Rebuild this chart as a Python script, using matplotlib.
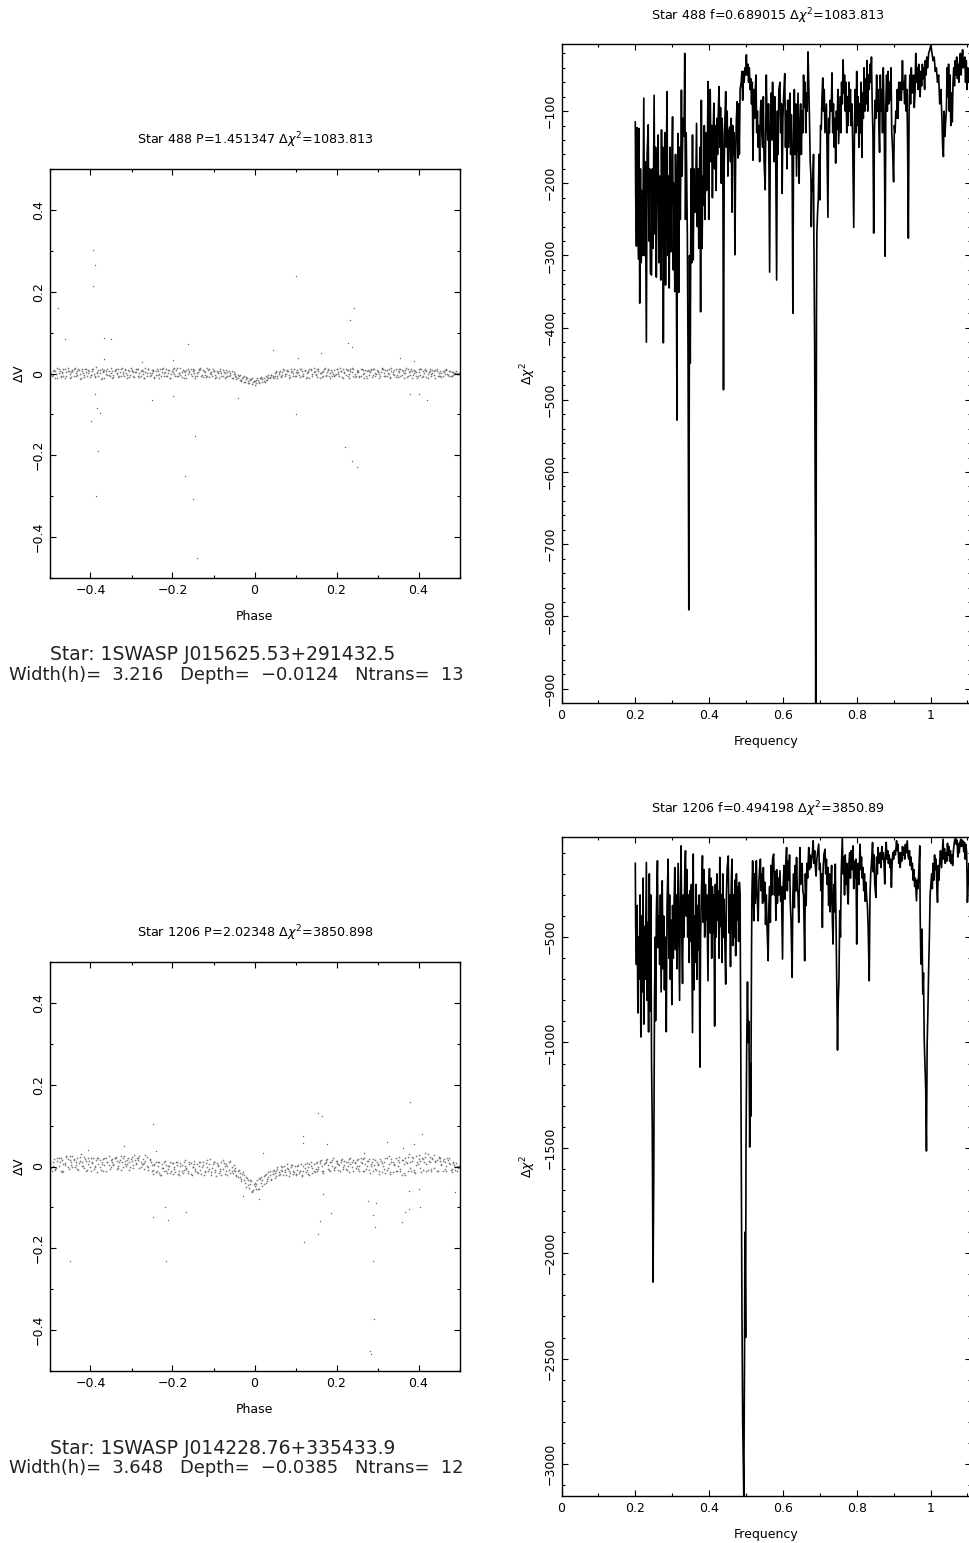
# Two stars: folded light curve on the left, periodogram on the right
import matplotlib
matplotlib.use("Agg")
import matplotlib.pyplot as plt
from matplotlib.ticker import MultipleLocator, FuncFormatter

plt.rcParams['font.family'] = ['DejaVu Sans']
plt.rcParams['mathtext.fontset'] = 'dejavusans'

FIG_W = 969
FIG_H = 1543

# Phase of the points in the main band of the light curves
phase_band = [
    -.498, -.494, -.488, -.484, -.478, -.473, -.469, -.463, -.459, -.453,
    -.448, -.444, -.438, -.434, -.428, -.423, -.419, -.413, -.409, -.403,
    -.398, -.394, -.388, -.384, -.378, -.373, -.369, -.363, -.359, -.353,
    -.348, -.344, -.338, -.334, -.328, -.323, -.319, -.313, -.309, -.303,
    -.298, -.294, -.288, -.284, -.278, -.273, -.269, -.263, -.259, -.253,
    -.248, -.244, -.238, -.234, -.228, -.223, -.219, -.213, -.209, -.203,
    -.198, -.194, -.188, -.184, -.178, -.173, -.169, -.163, -.159, -.153,
    -.148, -.144, -.138, -.134, -.128, -.123, -.119, -.113, -.109, -.103,
    -.098, -.094, -.088, -.084, -.078, -.073, -.069, -.063, -.059, -.053,
    -.048, -.044, -.038, -.034, -.028, -.023, -.019, -.013, -.009, -.003,
    .002, .006, .012, .016, .022, .027, .031, .037, .041, .047,
    .052, .056, .062, .066, .072, .077, .081, .087, .091, .097,
    .102, .106, .112, .116, .122, .127, .131, .137, .141, .147,
    .152, .156, .162, .166, .172, .177, .181, .187, .191, .197,
    .202, .206, .212, .216, .222, .227, .231, .237, .241, .247,
    .252, .256, .262, .266, .272, .277, .281, .287, .291, .297,
    .302, .306, .312, .316, .322, .327, .331, .337, .341, .347,
    .352, .356, .362, .366, .372, .377, .381, .387, .391, .397,
    .402, .406, .412, .416, .422, .427, .431, .437, .441, .447,
    .452, .456, .462, .466, .472, .477, .481, .487, .491, .497,
]

phase_band_b = [
    -.496, -.491, -.486, -.481, -.476, -.471, -.466, -.461, -.456, -.451,
    -.446, -.441, -.436, -.431, -.426, -.421, -.416, -.411, -.406, -.401,
    -.396, -.391, -.386, -.381, -.376, -.371, -.366, -.361, -.356, -.351,
    -.346, -.341, -.336, -.331, -.326, -.321, -.316, -.311, -.306, -.301,
    -.296, -.291, -.286, -.281, -.276, -.271, -.266, -.261, -.256, -.251,
    -.246, -.241, -.236, -.231, -.226, -.221, -.216, -.211, -.206, -.201,
    -.196, -.191, -.186, -.181, -.176, -.171, -.166, -.161, -.156, -.151,
    -.146, -.141, -.136, -.131, -.126, -.121, -.116, -.111, -.106, -.101,
    -.096, -.091, -.086, -.081, -.076, -.071, -.066, -.061, -.056, -.051,
    -.046, -.041, -.036, -.031, -.026, -.021, -.016, -.011, -.006, -.001,
    .004, .009, .014, .019, .024, .029, .034, .039, .044, .049,
    .054, .059, .064, .069, .074, .079, .084, .089, .094, .099,
    .104, .109, .114, .119, .124, .129, .134, .139, .144, .149,
    .154, .159, .164, .169, .174, .179, .184, .189, .194, .199,
    .204, .209, .214, .219, .224, .229, .234, .239, .244, .249,
    .254, .259, .264, .269, .274, .279, .284, .289, .294, .299,
    .304, .309, .314, .319, .324, .329, .334, .339, .344, .349,
    .354, .359, .364, .369, .374, .379, .384, .389, .394, .399,
    .404, .409, .414, .419, .424, .429, .434, .439, .444, .449,
    .454, .459, .464, .469, .474, .479, .484, .489, .494, .499,
]

phase_band_c = [
    -.499, -.492, -.487, -.482, -.475, -.470, -.467, -.460, -.455, -.450,
    -.447, -.440, -.435, -.432, -.425, -.420, -.417, -.410, -.405, -.400,
    -.397, -.390, -.385, -.382, -.375, -.370, -.367, -.360, -.355, -.350,
    -.347, -.340, -.335, -.332, -.325, -.320, -.317, -.310, -.305, -.300,
    -.297, -.290, -.285, -.282, -.275, -.270, -.267, -.260, -.255, -.250,
    -.247, -.240, -.235, -.232, -.225, -.220, -.217, -.210, -.205, -.200,
    -.197, -.190, -.185, -.182, -.175, -.170, -.167, -.160, -.155, -.150,
    -.147, -.140, -.135, -.132, -.125, -.120, -.117, -.110, -.105, -.100,
    -.097, -.090, -.085, -.082, -.075, -.070, -.067, -.060, -.055, -.050,
    -.047, -.040, -.035, -.032, -.025, -.020, -.017, -.010, -.005, .000,
    .003, .010, .015, .018, .025, .030, .033, .040, .045, .050,
    .053, .060, .065, .068, .075, .080, .083, .090, .095, .100,
    .103, .110, .115, .118, .125, .130, .133, .140, .145, .150,
    .153, .160, .165, .168, .175, .180, .183, .190, .195, .200,
    .203, .210, .215, .218, .225, .230, .233, .240, .245, .250,
    .253, .260, .265, .268, .275, .280, .283, .290, .295, .300,
    .303, .310, .315, .318, .325, .330, .333, .340, .345, .350,
    .353, .360, .365, .368, .375, .380, .383, .390, .395, .400,
    .403, .410, .415, .418, .425, .430, .433, .440, .445, .450,
    .453, .460, .465, .468, .475, .482, .485, .490, .493, .498,
]

dv_488 = [
    .004, -.006, .009, -.002, .011, -.008, .003, .012, -.005, .007,
    -.009, .005, .013, -.003, .008, -.011, .002, .010, -.006, .006,
    -.004, .012, -.008, .003, .009, -.010, .005, -.001, .011, -.007,
    .006, -.003, .010, -.009, .004, .013, -.006, .001, .008, -.004,
    .009, -.008, .003, .012, -.005, .007, -.011, .002, .010, -.003,
    .005, -.009, .011, .000, -.006, .013, .004, -.007, .008, -.002,
    .010, -.005, .014, .002, -.009, .007, -.003, .012, .004, -.006,
    .008, -.010, .003, .011, -.004, .006, -.008, .009, .001, -.005,
    .007, -.009, .004, .010, -.006, .002, -.008, .006, -.003, -.010,
    -.002, -.013, -.006, -.015, -.009, -.020, -.012, -.024, -.014, -.022,
    -.019, -.012, -.024, -.010, -.018, -.006, -.015, -.008, -.003, -.011,
    .004, -.007, .006, -.004, .009, -.002, .007, -.008, .005, .010,
    -.006, .003, .011, -.005, .008, -.009, .004, .012, -.002, .006,
    -.008, .010, .002, -.005, .013, .004, -.007, .009, .000, -.004,
    .011, -.006, .005, .012, -.003, .008, -.010, .004, .010, -.005,
    .007, -.008, .012, .001, -.006, .009, .003, -.009, .011, -.002,
    .006, -.007, .013, .002, -.005, .010, -.009, .004, .008, -.003,
    .012, -.006, .005, .009, -.008, .003, .011, -.004, .007, -.010,
    .004, .010, -.006, .008, -.002, .012, -.007, .005, .009, -.005,
    .006, -.009, .003, .010, -.004, .007, -.006, .002, .005, -.001,
]

dv_488_b = [
    -.001, .006, -.010, .014, .001, -.005, .010, -.012, .005, -.002,
    .009, -.006, .002, .011, -.013, .007, -.003, .012, .001, -.008,
    .007, -.002, .015, -.006, .002, .010, -.012, .006, -.004, .013,
    -.008, .009, .002, -.005, .012, -.002, .008, -.011, .005, .014,
    -.006, .003, .011, -.009, .006, -.001, .013, -.005, .002, .009,
    -.012, .007, -.003, .010, .004, -.007, .012, .001, -.010, .006,
    -.002, .009, -.006, .013, .003, -.011, .008, -.002, .011, .005,
    -.007, .002, .012, -.006, .009, -.003, .014, -.009, .004, .010,
    -.004, .006, -.012, .002, .008, -.010, .004, -.006, .007, -.002,
    -.008, -.004, -.016, -.010, -.021, -.008, -.018, -.013, -.026, -.019,
    -.024, -.015, -.010, -.021, -.012, -.017, -.004, -.012, -.007, .002,
    -.010, .003, -.005, .010, -.002, .008, -.011, .004, .001, -.006,
    .009, -.003, .012, -.007, .005, .001, -.010, .008, .013, -.004,
    .006, -.011, .003, .010, -.007, .012, .001, -.005, .009, -.002,
    .004, .013, -.008, .002, .010, -.005, .007, .014, -.009, .003,
    -.006, .010, -.002, .008, -.012, .005, .012, -.003, .001, .009,
    -.010, .004, .011, -.006, .008, -.002, .013, .000, -.008, .006,
    .010, -.004, .002, .014, -.007, .006, -.011, .009, .003, -.005,
    .012, -.008, .002, .005, -.011, .007, .001, -.003, .011, -.006,
    .002, -.005, .008, -.002, .006, -.007, .004, -.002, .002, .000,
]

dv_488_c = [
    .002, -.003, .006, -.012, .007, .002, -.007, .004, .013, -.010,
    .003, .010, -.007, .005, -.001, .012, -.009, .003, .008, -.003,
    .011, -.006, .001, .009, -.013, .003, .008, -.004, .006, .001,
    -.011, .005, -.002, .012, -.007, .003, .010, -.003, -.009, .006,
    .003, .012, -.007, .001, .008, -.012, .004, .011, -.006, .002,
    .009, -.003, .006, -.010, .011, .002, -.005, .008, -.012, .004,
    .013, -.007, .001, -.004, .009, .003, -.012, .006, -.001, .010,
    .001, -.006, .008, .013, -.009, .003, -.005, .011, -.002, .006,
    -.010, .001, .007, -.005, .003, .009, -.007, .001, -.011, .004,
    -.006, -.011, -.003, -.018, -.007, -.014, -.023, -.017, -.011, -.027,
    -.016, -.022, -.009, -.014, -.021, -.009, -.012, -.003, -.009, -.005,
    .006, -.001, -.008, .003, -.006, .005, -.003, .011, -.007, .003,
    .002, -.008, .007, .000, -.010, .006, .012, -.006, .004, -.001,
    .010, .002, -.009, .006, -.004, .008, -.011, .003, -.006, .011,
    -.002, .007, -.011, .004, .009, -.002, .012, -.007, .000, .008,
    .003, -.005, .009, -.010, .006, -.003, .008, .012, -.006, .004,
    -.002, .011, -.006, .008, .001, -.011, .006, -.003, .012, -.008,
    .004, .008, -.011, .002, .010, -.004, .006, .001, -.007, .012,
    -.003, .006, .011, -.008, .004, -.001, .009, -.010, .005, .002,
    -.007, .005, -.001, .008, -.006, .003, -.003, .001, -.001, .001,
]

dv_1206 = [
    .006, -.012, .018, -.004, .020, -.010, .016, .003, .024, -.006,
    .012, .026, -.002, .022, .008, .030, .002, .018, -.008, .014,
    -.010, .020, .002, -.014, .016, .006, -.012, .022, .010, -.006,
    .018, .004, .024, -.004, .016, .010, .026, .002, .020, -.002,
    .014, .028, .006, .020, -.002, .018, .008, .024, -.008, .012,
    -.018, .006, -.012, .010, -.022, -.004, .014, -.016, .002, -.010,
    .008, -.014, .012, -.020, .004, -.008, .016, -.012, .006, -.020,
    .014, -.006, -.016, .010, -.002, -.022, .008, -.012, .018, -.004,
    .012, -.024, .004, -.012, .016, -.018, .006, -.008, .014, -.016,
    -.004, -.020, -.008, -.030, -.014, -.040, -.028, -.052, -.036, -.058,
    -.048, -.034, -.056, -.026, -.044, -.018, -.036, -.012, -.032, -.008,
    -.024, -.002, -.018, -.012, .002, -.022, -.006, -.016, .004, -.014,
    -.020, .004, -.010, -.024, .006, -.008, -.018, .012, -.004, -.014,
    .012, -.006, .016, -.012, .008, .018, -.008, .010, .020, -.002,
    .014, .004, .016, -.006, .012, .002, -.014, .010, .016, -.004,
    .018, -.010, .008, .022, -.006, .014, -.016, .010, .004, -.008,
    .006, .018, -.014, .010, -.008, .026, -.018, .012, .004, -.010,
    .024, -.012, .016, -.020, .008, .030, -.010, .020, -.016, .012,
    .028, -.014, .018, .032, -.008, .024, -.006, .028, .014, -.010,
    .022, .006, .018, -.012, .016, .006, -.014, .004, .008, -.004,
]

dv_1206_b = [
    -.004, .010, -.006, .014, .002, .022, -.012, .008, .018, .026,
    -.002, .016, .004, -.008, .024, .012, -.004, .014, .020, .000,
    .008, -.006, .016, .022, -.002, .012, .020, -.010, .004, .016,
    .006, .020, -.006, .012, .026, -.002, .014, .006, -.008, .018,
    .004, .016, .022, -.004, .012, .006, .028, .002, .016, -.010,
    .004, -.014, .010, -.020, -.004, .012, -.010, .002, -.016, .008,
    -.006, .010, -.018, .002, -.012, .012, -.004, -.016, .008, -.002,
    -.012, .006, .010, -.018, .004, -.010, .016, -.006, -.014, .006,
    -.008, .008, -.016, .010, -.006, .002, -.020, .010, -.010, .004,
    -.024, -.012, -.026, -.018, -.034, -.026, -.046, -.032, -.060, -.044,
    -.042, -.054, -.030, -.048, -.024, -.040, -.026, -.020, -.010, -.028,
    -.006, -.014, .002, -.020, -.008, .006, -.012, -.002, -.018, .002,
    -.008, -.016, .006, -.012, -.004, .008, -.020, .002, -.010, .008,
    .000, .014, -.010, .006, .016, -.006, .012, .002, -.008, .014,
    .006, -.012, .018, .004, -.006, .012, .022, -.002, .008, .016,
    .002, .020, -.012, .006, .014, -.008, .002, .018, -.006, .012,
    -.012, .014, .002, -.016, .020, .006, .012, -.014, .022, .002,
    -.006, .016, -.016, .010, .024, -.004, .014, -.014, .026, .006,
    -.004, .022, .010, -.010, .030, .012, .020, -.004, .016, .024,
    .004, .014, -.006, .020, .008, -.008, .010, .000, -.010, .002,
]

dv_1206_c = [
    .012, .002, -.008, .022, .010, -.014, .006, .026, -.002, .016,
    .004, .018, .010, -.006, .014, .002, .024, -.010, .006, .020,
    .012, .000, .022, .006, -.008, .018, .004, .012, .026, -.002,
    .010, .022, .014, .002, -.008, .020, .006, .016, .012, .024,
    -.004, .008, .016, .026, .006, -.006, .014, -.002, .018, .004,
    -.008, .012, .002, -.016, .006, -.012, .004, -.006, .012, -.018,
    -.002, .004, -.010, .008, -.016, .002, -.006, .010, -.018, .000,
    .006, -.014, .002, -.008, .012, -.014, -.002, .006, -.020, .010,
    -.014, .002, -.006, -.020, .008, -.012, .002, -.016, -.002, -.008,
    -.012, -.026, -.016, -.036, -.022, -.050, -.034, -.044, -.062, -.040,
    -.056, -.028, -.040, -.034, -.020, -.030, -.014, -.030, -.018, -.016,
    -.012, -.020, -.008, .000, -.014, -.004, -.024, .004, -.010, -.018,
    .002, -.012, -.020, .002, -.014, -.002, .006, -.016, .006, -.006,
    -.012, .008, .002, -.016, .012, .004, -.012, .016, -.004, .008,
    -.008, .010, .000, .014, -.008, .018, .006, -.012, .012, .002,
    -.006, .010, .018, -.010, .002, .018, .006, -.012, .016, .004,
    -.018, .008, -.006, .022, -.004, -.014, .018, .006, -.012, .016,
    .010, -.020, .006, .020, -.012, .012, .024, -.008, .004, .018,
    .014, -.008, .024, .006, .014, -.010, .018, .010, -.012, .020,
    .014, -.010, .012, .002, .020, -.006, .008, -.008, .002, -.002,
]

# Points away from the main band
out_phase_488 = [-.393, -.388, -.395, -.48, -.463, -.368, -.35, -.161, .102, .243, .232, .227, .237,
                 .046, .163, -.366, -.2, .106, .355, .39, -.275, -.387, -.382, -.14, -.15, -.17, -.145,
                 .25, .238, .22, -.385, -.377, -.4, -.39, -.2, -.25, .38, .4, .42, -.04, .1]
out_dv_488 = [.302, .266, .213, .159, .085, .088, .085, .071, .239, .161, .132, .075, .065,
              .057, .05, .036, .034, .037, .037, .031, .027, -.3, -.19, -.45, -.306, -.25, -.153,
              -.228, -.213, -.18, -.085, -.096, -.116, -.05, -.055, -.065, -.05, -.05, -.065, -.06, -.1]

out_phase_1206 = [-.248, -.318, -.405, .154, .164, .38, .408, .118, .118, .176, .324, .363, .388, .02,
                  -.24, .266, -.027, .01, .168, .276, .297, .29, .294, .376, .367, .359, .404, .402,
                  .376, .187, .159, .156, .12, -.218, -.248, -.212, -.167, -.45, -.215, .288, .292,
                  .282, .285, .49]
out_dv_1206 = [.103, .05, .04, .13, .124, .158, .08, .075, .058, .056, .061, .046, .056, .034,
               .038, .034, -.072, -.08, -.067, -.084, -.09, -.118, -.149, -.104, -.112, -.135, -.1, -.055,
               -.059, -.114, -.133, -.165, -.184, -.1, -.124, -.13, -.112, -.23, -.232, -.232, -.372,
               -.452, -.459, -.063]

# Periodogram of star 488
freq_488 = [
    .200, .201, .203, .205, .207, .209, .210, .212, .214, .216,
    .218, .220, .223, .225, .227, .229, .230, .232, .235, .237,
    .239, .241, .244, .246, .248, .251, .253, .255, .257, .259,
    .262, .264, .266, .269, .271, .273, .274, .276, .278, .280,
    .282, .284, .286, .288, .290, .292, .294, .296, .298, .301,
    .303, .305, .307, .309, .311, .313, .314, .316, .318, .320,
    .322, .325, .327, .329, .332, .334, .336, .338, .341, .343,
    .345, .347, .349, .351, .353, .355, .357, .359, .361, .363,
    .366, .368, .370, .372, .375, .377, .379, .381, .383, .385,
    .387, .389, .391, .393, .395, .397, .399, .401, .403, .405,
    .407, .409, .411, .413, .415, .417, .419, .421, .423, .425,
    .427, .429, .431, .433, .435, .437, .439, .441, .443, .445,
    .447, .449, .451, .453, .456, .458, .460, .462, .464, .466,
    .468, .470, .472, .474, .476, .478, .480, .482, .484, .487,
    .489, .491, .493, .495, .497, .499, .501, .503, .505, .507,
    .509, .511, .513, .515, .517, .519, .521, .523, .525, .527,
    .529, .531, .533, .535, .537, .539, .541, .543, .545, .547,
    .549, .552, .555, .557, .559, .561, .564, .566, .568, .570,
    .572, .574, .576, .578, .580, .583, .585, .587, .589, .592,
    .594, .596, .598, .600, .602, .605, .607, .609, .611, .613,
    .615, .617, .619, .621, .623, .625, .627, .629, .631, .633,
    .635, .637, .639, .641, .644, .646, .648, .650, .652, .654,
    .656, .658, .660, .662, .664, .666, .668, .670, .672, .674,
    .676, .677, .679, .681, .683, .684, .686, .688, .689, .690,
    .691, .692, .694, .696, .698, .700, .702, .704, .706, .708,
    .710, .712, .714, .716, .718, .720, .722, .724, .726, .728,
    .731, .733, .735, .737, .739, .741, .743, .745, .747, .749,
    .751, .753, .755, .757, .759, .761, .763, .765, .767, .769,
    .771, .773, .775, .777, .779, .781, .783, .785, .787, .789,
    .792, .794, .796, .798, .800, .802, .804, .806, .808, .810,
    .812, .814, .816, .818, .820, .822, .824, .826, .828, .830,
    .832, .834, .836, .838, .840, .842, .844, .846, .848, .850,
    .852, .854, .856, .858, .860, .862, .864, .866, .868, .870,
    .872, .874, .875, .877, .879, .881, .883, .885, .887, .889,
    .891, .893, .895, .897, .900, .902, .904, .906, .908, .910,
    .912, .914, .916, .918, .921, .924, .926, .928, .930, .932,
    .934, .936, .938, .940, .942, .944, .946, .948, .950, .952,
    .954, .956, .958, .960, .962, .964, .966, .968, .970, .972,
    .974, .976, .978, .980, .982, .984, .986, .988, .990, .992,
    .995, .998, 1.001, 1.004, 1.007, 1.010, 1.013, 1.016, 1.019, 1.022,
    1.025, 1.028, 1.031, 1.033, 1.035, 1.037, 1.039, 1.041, 1.043, 1.045,
    1.047, 1.049, 1.051, 1.053, 1.055, 1.057, 1.059, 1.061, 1.063, 1.065,
    1.067, 1.069, 1.071, 1.073, 1.075, 1.077, 1.079, 1.081, 1.083, 1.085,
    1.087, 1.089, 1.091, 1.093, 1.095, 1.097, 1.099, 1.101, 1.103, 1.106,
]

chi_488 = [
    -115, -215, -287, -123, -250, -305, -124, -366, -180, -310,
    -210, -300, -82, -300, -170, -340, -420, -160, -119, -280,
    -180, -325, -327, -180, -290, -78, -270, -150, -330, -190,
    -133, -310, -190, -334, -126, -290, -150, -421, -220, -130,
    -341, -170, -73, -300, -190, -345, -150, -295, -210, -108,
    -320, -200, -350, -160, -300, -528, -200, -131, -351, -150,
    -250, -71, -190, -110, -135, -20, -250, -130, -270, -449,
    -791, -300, -449, -180, -310, -133, -306, -180, -240, -240,
    -117, -260, -180, -290, -150, -378, -85, -290, -190, -230,
    -120, -250, -130, -210, -180, -59, -250, -140, -70, -170,
    -120, -220, -130, -89, -180, -120, -210, -110, -160, -100,
    -66, -150, -95, -200, -110, -130, -486, -170, -110, -73,
    -150, -100, -190, -130, -122, -170, -110, -240, -120, -160,
    -130, -299, -160, -110, -87, -165, -90, -160, -70, -60,
    -45, -85, -45, -60, -40, -50, -22, -50, -35, -60,
    -40, -70, -55, -90, -60, -168, -70, -110, -75, -50,
    -130, -100, -150, -120, -170, -100, -85, -130, -150, -80,
    -170, -209, -50, -110, -140, -90, -323, -120, -75, -140,
    -60, -110, -170, -80, -130, -334, -100, -160, -70, -60,
    -130, -90, -214, -110, -80, -48, -150, -100, -180, -85,
    -150, -100, -75, -160, -105, -170, -380, -130, -70, -160,
    -90, -190, -130, -75, -200, -120, -90, -160, -100, -130,
    -50, -95, -60, -130, -75, -100, -18, -60, -110, -170,
    -190, -260, -195, -210, -160, -280, -420, -700, -920, -700,
    -380, -270, -240, -220, -160, -223, -120, -125, -80, -54,
    -100, -70, -130, -110, -90, -170, -247, -110, -130, -85,
    -100, -47, -130, -90, -150, -110, -172, -100, -125, -70,
    -145, -110, -80, -130, -60, -90, -29, -75, -50, -100,
    -60, -130, -80, -120, -60, -100, -70, -120, -90, -140,
    -261, -120, -70, -130, -45, -120, -80, -150, -90, -130,
    -60, -164, -75, -110, -40, -100, -55, -90, -30, -100,
    -50, -70, -35, -60, -25, -90, -130, -269, -130, -85,
    -110, -50, -100, -70, -120, -157, -50, -100, -70, -130,
    -40, -100, -140, -301, -90, -50, -100, -45, -90, -60,
    -85, -40, -130, -150, -198, -120, -130, -100, -110, -70,
    -110, -60, -85, -60, -85, -30, -70, -60, -90, -50,
    -100, -70, -150, -276, -100, -50, -90, -40, -75, -65,
    -50, -95, -75, -20, -60, -40, -70, -35, -55, -80,
    -45, -65, -35, -55, -40, -70, -30, -50, -25, -40,
    -20, -15, -9, -20, -30, -25, -45, -40, -60, -50,
    -90, -70, -110, -150, -163, -100, -135, -115, -100, -40,
    -80, -35, -100, -50, -120, -75, -115, -60, -40, -65,
    -30, -50, -25, -55, -35, -60, -30, -20, -50, -30,
    -15, -40, -30, -25, -60, -30, -70, -40, -60, -50,
]

# Periodogram of star 1206
freq_1206 = [
    .200, .201, .203, .205, .207, .209, .211, .213, .215, .217,
    .219, .221, .223, .225, .227, .230, .232, .234, .236, .238,
    .240, .242, .244, .246, .248, .250, .252, .254, .255, .257,
    .260, .262, .264, .266, .268, .270, .273, .275, .277, .279,
    .281, .284, .286, .289, .291, .293, .295, .297, .299, .301,
    .303, .305, .307, .309, .311, .313, .316, .318, .320, .322,
    .324, .326, .328, .330, .332, .334, .336, .338, .340, .342,
    .344, .346, .348, .350, .352, .355, .357, .359, .361, .363,
    .365, .367, .369, .371, .373, .375, .377, .379, .382, .384,
    .386, .388, .390, .392, .394, .397, .399, .401, .403, .405,
    .407, .409, .411, .413, .415, .417, .419, .421, .423, .425,
    .427, .429, .431, .433, .435, .437, .439, .441, .443, .445,
    .447, .449, .452, .454, .456, .458, .460, .462, .464, .466,
    .468, .470, .472, .474, .476, .478, .480, .482, .484, .485,
    .486, .487, .489, .491, .494, .496, .497, .499, .500, .502,
    .504, .506, .508, .510, .512, .513, .515, .516, .518, .520,
    .521, .523, .525, .528, .530, .533, .535, .537, .539, .541,
    .543, .545, .547, .549, .551, .553, .555, .557, .560, .562,
    .564, .566, .568, .570, .572, .575, .577, .579, .581, .583,
    .585, .587, .589, .592, .594, .596, .599, .601, .603, .605,
    .607, .610, .612, .614, .616, .618, .620, .622, .625, .627,
    .629, .631, .633, .635, .637, .639, .641, .643, .646, .648,
    .650, .652, .654, .656, .659, .661, .663, .665, .667, .670,
    .672, .674, .676, .678, .680, .682, .684, .686, .688, .690,
    .692, .694, .697, .699, .701, .703, .705, .707, .709, .711,
    .714, .716, .718, .720, .722, .724, .726, .728, .730, .732,
    .734, .736, .738, .740, .742, .744, .746, .748, .750, .752,
    .754, .756, .758, .761, .763, .765, .767, .769, .771, .773,
    .775, .777, .779, .781, .783, .785, .787, .790, .792, .794,
    .796, .798, .800, .802, .804, .806, .809, .811, .813, .815,
    .817, .819, .821, .823, .825, .827, .829, .831, .834, .836,
    .838, .840, .843, .845, .847, .849, .852, .854, .856, .858,
    .860, .862, .864, .866, .868, .870, .872, .874, .876, .878,
    .880, .882, .884, .886, .888, .890, .892, .894, .896, .898,
    .900, .902, .905, .908, .910, .912, .914, .916, .918, .920,
    .922, .924, .926, .928, .930, .932, .934, .937, .939, .941,
    .943, .945, .947, .949, .951, .953, .955, .957, .959, .962,
    .964, .966, .968, .971, .972, .974, .977, .979, .981, .983,
    .985, .987, .989, .991, .993, .995, .997, .999, 1.001, 1.003,
    1.005, 1.007, 1.009, 1.011, 1.013, 1.015, 1.017, 1.019, 1.021, 1.023,
    1.025, 1.027, 1.030, 1.032, 1.034, 1.036, 1.038, 1.040, 1.042, 1.044,
    1.046, 1.048, 1.050, 1.052, 1.054, 1.056, 1.058, 1.060, 1.062, 1.065,
    1.068, 1.070, 1.072, 1.074, 1.076, 1.078, 1.080, 1.082, 1.084, 1.086,
    1.088, 1.090, 1.092, 1.094, 1.096, 1.098, 1.100, 1.102, 1.104, 1.106,
]

chi_1206 = [
    -150, -450, -630, -350, -860, -500, -700, -300, -974, -400,
    -760, -220, -913, -450, -700, -146, -800, -430, -950, -200,
    -850, -300, -1093, -1400, -2137, -1650, -800, -500, -897, -400,
    -138, -550, -400, -630, -300, -760, -233, -650, -400, -750,
    -500, -949, -350, -130, -600, -300, -700, -420, -820, -350,
    -600, -350, -170, -560, -300, -650, -150, -480, -800, -300,
    -67, -500, -720, -300, -500, -200, -90, -400, -180, -500,
    -300, -620, -280, -520, -250, -953, -106, -750, -400, -620,
    -250, -700, -350, -560, -300, -1117, -500, -300, -114, -430,
    -180, -500, -250, -420, -300, -707, -280, -175, -480, -220,
    -600, -260, -480, -300, -922, -250, -500, -200, -420, -280,
    -600, -122, -450, -300, -620, -200, -500, -320, -560, -723,
    -300, -170, -115, -480, -300, -640, -250, -130, -540, -300,
    -500, -230, -588, -200, -420, -260, -520, -240, -300, -691,
    -1100, -1529, -2265, -2800, -3152, -2500, -1900, -2400, -1500, -1000,
    -713, -1000, -900, -1496, -1100, -1350, -565, -300, -138, -300,
    -422, -200, -340, -138, -300, -423, -240, -170, -130, -280,
    -200, -340, -170, -330, -240, -440, -300, -450, -612, -350,
    -260, -430, -160, -300, -130, -106, -300, -190, -420, -180,
    -340, -220, -300, -185, -330, -260, -604, -250, -160, -320,
    -180, -75, -280, -140, -230, -110, -340, -420, -691, -300,
    -200, -360, -160, -280, -122, -270, -300, -430, -75, -250,
    -230, -150, -280, -300, -612, -200, -350, -150, -220, -75,
    -180, -110, -170, -130, -100, -43, -150, -90, -170, -210,
    -130, -100, -59, -180, -150, -280, -200, -454, -180, -110,
    -83, -200, -130, -250, -170, -350, -200, -380, -280, -160,
    -420, -533, -250, -380, -154, -420, -720, -1036, -800, -700,
    -375, -500, -200, -27, -200, -120, -300, -110, -250, -150,
    -280, -343, -150, -100, -220, -90, -180, -67, -270, -140,
    -220, -130, -533, -200, -150, -250, -59, -180, -120, -220,
    -170, -280, -200, -330, -240, -312, -350, -450, -707, -300,
    -200, -150, -51, -190, -110, -250, -312, -120, -200, -75,
    -150, -120, -100, -170, -70, -130, -100, -150, -248, -100,
    -50, -130, -90, -150, -110, -170, -130, -264, -150, -100,
    -130, -90, -110, -43, -90, -60, -150, -100, -170, -100,
    -140, -70, -110, -75, -130, -60, -100, -43, -110, -130,
    -90, -160, -120, -180, -150, -230, -180, -260, -220, -328,
    -230, -270, -200, -67, -400, -628, -462, -770, -670, -990,
    -1100, -1220, -1515, -1000, -850, -650, -500, -300, -250, -200,
    -270, -150, -230, -110, -180, -130, -250, -335, -160, -230,
    -140, -90, -170, -100, -35, -130, -80, -150, -100, -140,
    -55, -110, -70, -140, -90, -150, -110, -160, -90, -45,
    -30, -60, -40, -120, -55, -100, -50, -35, -70, -40,
    -45, -95, -50, -130, -60, -100, -335, -250, -150, -180,
]

# Text of each panel
lc_titles = [r'Star 488 P=1.451347 $\Delta\chi^2$=1083.813', r'Star 1206 P=2.02348 $\Delta\chi^2$=3850.898']
pg_titles = [r'Star 488 f=0.689015 $\Delta\chi^2$=1083.813', r'Star 1206 f=0.494198 $\Delta\chi^2$=3850.89']
star_names = ['Star: 1SWASP J015625.53+291432.5', 'Star: 1SWASP J014228.76+335433.9']
star_stats = ['Width(h)=  3.216   Depth=  \u22120.0124   Ntrans=  13',
              'Width(h)=  3.648   Depth=  \u22120.0385   Ntrans=  12']


def axes_px(fig, left, top, right, bottom):
    # Make an axes from pixel positions measured from the top left
    return fig.add_axes([left / FIG_W, 1 - bottom / FIG_H, (right - left) / FIG_W, (bottom - top) / FIG_H])


def tick_label(value, pos):
    return f'{value:g}'.replace('-', '\u2212')


def style_axes(ax, x_major, x_minor, y_major, y_minor):
    ax.xaxis.set_major_locator(MultipleLocator(x_major))
    ax.xaxis.set_minor_locator(MultipleLocator(x_minor))
    ax.yaxis.set_major_locator(MultipleLocator(y_major))
    ax.yaxis.set_minor_locator(MultipleLocator(y_minor))
    ax.xaxis.set_major_formatter(FuncFormatter(tick_label))
    ax.yaxis.set_major_formatter(FuncFormatter(tick_label))
    ax.tick_params(which='major', direction='in', top=True, right=True, length=4, width=0.8, labelsize=9)
    ax.tick_params(which='minor', direction='in', top=True, right=True, length=2, width=0.8)
    ax.tick_params(axis='x', which='major', pad=4.5)
    ax.tick_params(axis='y', which='major', pad=3.5)
    for label in ax.get_yticklabels():
        label.set_rotation(90)
        label.set_va('center')
    for spine in ax.spines.values():
        spine.set_linewidth(1.0)


fig = plt.figure(figsize=(FIG_W / 100, FIG_H / 100), dpi=100)

# One row for each star, offset by 793 px
rows = [
    (0, [dv_488, dv_488_b, dv_488_c], out_phase_488, out_dv_488, freq_488, chi_488, (-920, -7), 100, 20),
    (1, [dv_1206, dv_1206_b, dv_1206_c], out_phase_1206, out_dv_1206, freq_1206, chi_1206, (-3152, -25), 500, 100),
]
band_phases = [phase_band, phase_band_b, phase_band_c]

for i, dvs, out_phase, out_dv, freq, chi, chi_lim, chi_major, chi_minor in rows:
    off = 793 * i

    # Light curve
    ax = axes_px(fig, 49.5, 169 + off, 459.5, 578 + off)
    for phase, dv in zip(band_phases, dvs):
        ax.scatter(phase, dv, s=1.6, c='#666666', linewidths=0, alpha=0.85)
    ax.scatter(out_phase, out_dv, s=1.0, c='#666666', linewidths=0)
    ax.set_xlim(-0.5, 0.5)
    ax.set_ylim(-0.5, 0.5)
    style_axes(ax, 0.2, 0.1, 0.2, 0.1)
    ax.set_xlabel('Phase', fontsize=9, labelpad=9)
    ax.set_ylabel(r'$\Delta$V', fontsize=9, labelpad=4)
    fig.text(255 / FIG_W, 1 - (140 + off) / FIG_H, lc_titles[i], fontsize=9.15, ha='center', va='center')

    # Summary under the light curve
    fig.text(50 / FIG_W, 1 - (655 + off) / FIG_H, star_names[i], fontsize=13.5, ha='left', va='center', color='#222222')
    fig.text(9 / FIG_W, 1 - (675 + off) / FIG_H, star_stats[i], fontsize=12.9, ha='left', va='center', color='#222222')

    # Periodogram, the right edge runs off the picture
    ax = axes_px(fig, 561.5, 44 + off, 971, 703 + off)
    ax.plot(freq, chi, color='black', linewidth=1.2)
    ax.set_xlim(0, (971 - 561.5) / 369)
    ax.set_ylim(chi_lim)
    style_axes(ax, 0.2, 0.1, chi_major, chi_minor)
    ax.set_xlabel('Frequency', fontsize=9, labelpad=9)
    ax.set_ylabel(r'$\Delta\chi^2$', fontsize=9, labelpad=4)
    fig.text(768 / FIG_W, 1 - (16 + off) / FIG_H, pg_titles[i], fontsize=9.15, ha='center', va='center')

fig.savefig('out.png', dpi=100)
